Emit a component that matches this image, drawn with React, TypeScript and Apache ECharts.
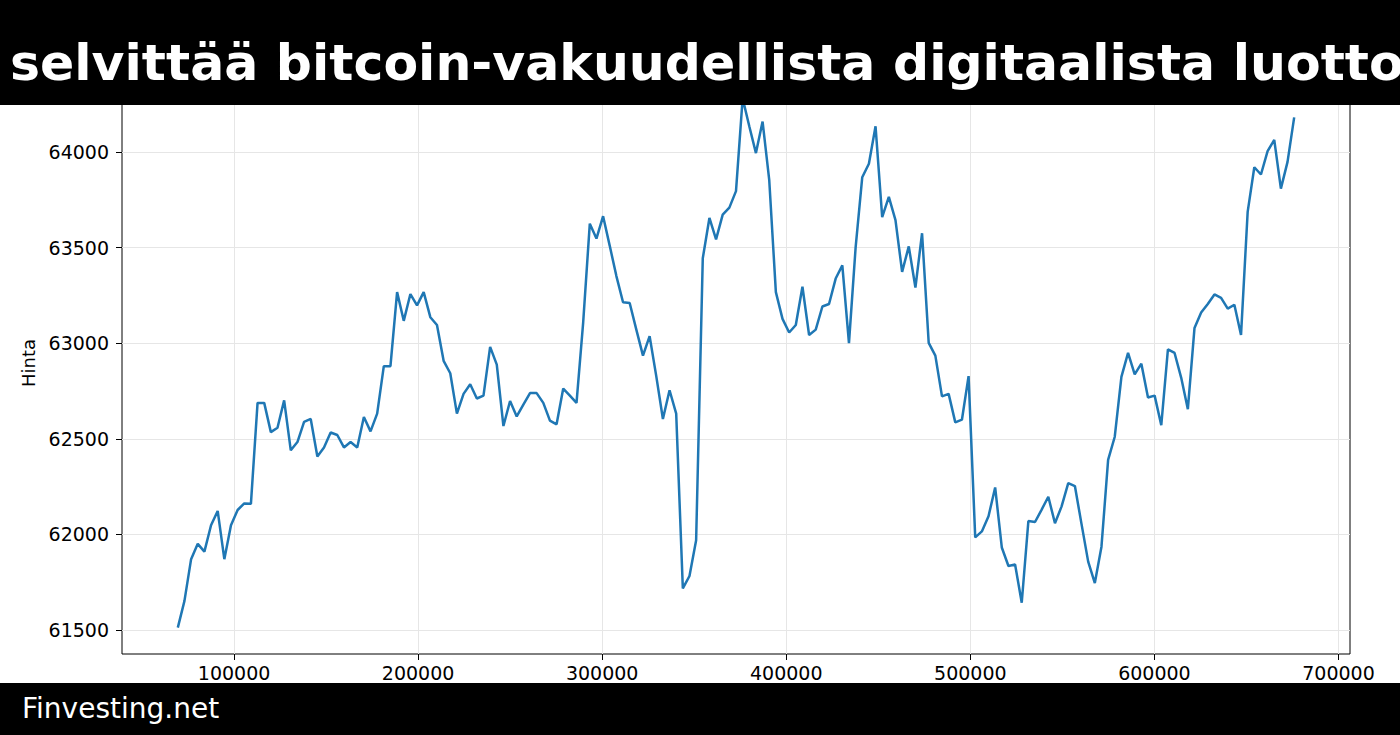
import React, { useEffect, useRef } from "react";
import * as echarts from "echarts";

const titleText = "selvittää bitcoin-vakuudellista digitaalista luotto";
const footerText = "Finvesting.net";
const yAxisName = "Hinta";

const xTicks = [100000, 200000, 300000, 400000, 500000, 600000, 700000];
const yTicks = [61500, 62000, 62500, 63000, 63500, 64000];

const xValues = [
  69450, 73060, 76670, 80280, 83890, 87500, 91110, 94720, 98330, 101940,
  105550, 109160, 112770, 116380, 119990, 123600, 127210, 130820, 134430, 138040,
  141650, 145260, 148870, 152480, 156090, 159700, 163310, 166920, 170530, 174140,
  177750, 181360, 184970, 188580, 192190, 195800, 199410, 203020, 206630, 210240,
  213850, 217460, 221070, 224680, 228290, 231900, 235510, 239120, 242730, 246340,
  249950, 253560, 257170, 260780, 264390, 268000, 271610, 275220, 278830, 282440,
  286050, 289660, 293270, 296880, 300490, 304100, 307710, 311320, 314930, 318540,
  322150, 325760, 329370, 332980, 336590, 340200, 343810, 347420, 351030, 354640,
  358250, 361860, 365470, 369080, 372690, 376300, 379910, 383520, 387130, 390740,
  394350, 397960, 401570, 405180, 408790, 412400, 416010, 419620, 423230, 426840,
  430450, 434060, 437670, 441280, 444890, 448500, 452110, 455720, 459330, 462940,
  466550, 470160, 473770, 477380, 480990, 484600, 488210, 491820, 495430, 499040,
  502650, 506260, 509870, 513480, 517090, 520700, 524310, 527920, 531530, 535140,
  538750, 542360, 545970, 549580, 553190, 556800, 560410, 564020, 567630, 571240,
  574850, 578460, 582070, 585680, 589290, 592900, 596510, 600120, 603730, 607340,
  610950, 614560, 618170, 621780, 625390, 629000, 632610, 636220, 639830, 643440,
  647050, 650660, 654270, 657880, 661490, 665100, 668710, 672320, 675930,
];

const prices = [
  61513, 61653, 61871, 61951, 61910, 62048, 62123, 61871, 62048, 62128,
  62162, 62160, 62688, 62688, 62535, 62558, 62701, 62440, 62483, 62589,
  62604, 62408, 62455, 62533, 62520, 62455, 62483, 62455, 62614, 62539,
  62632, 62880, 62880, 63267, 63117, 63257, 63198, 63267, 63136, 63095,
  62908, 62843, 62632, 62735, 62785, 62711, 62726, 62981, 62888, 62567,
  62698, 62617, 62679, 62739, 62739, 62688, 62595, 62576, 62763, 62726,
  62688, 63108, 63625, 63547, 63664, 63509, 63351, 63214, 63210, 63071,
  62935, 63037, 62828, 62604, 62754, 62632, 61718, 61783, 61970, 63444,
  63655, 63543, 63672, 63709, 63795, 64280, 64134, 63994, 64159, 63854,
  63267, 63127, 63056, 63095, 63295, 63043, 63071, 63192, 63205, 63338,
  63407, 63000, 63500, 63868, 63938, 64134, 63659, 63765, 63644, 63373,
  63506, 63291, 63575, 63002, 62935, 62722, 62735, 62586, 62600, 62828,
  61985, 62016, 62095, 62246, 61932, 61835, 61843, 61643, 62070, 62065,
  62130, 62197, 62059, 62147, 62268, 62253, 62054, 61858, 61746, 61936,
  62390, 62511, 62824, 62949, 62837, 62893, 62716, 62726, 62571, 62968,
  62949, 62819, 62655, 63080, 63160, 63205, 63255, 63237, 63181, 63201,
  63043, 63687, 63920, 63882, 64004, 64063, 63808, 63948, 64181,
];

export default function App() {
  const ref = useRef<HTMLDivElement>(null);

  useEffect(() => {
    document.body.style.margin = "0";
    if (!ref.current) return;
    const chart = echarts.init(ref.current, null, { renderer: "svg" });
    const data = xValues.map((x, i) => [x, prices[i]]);
    const font = "DejaVu Sans";
    chart.setOption({
      animation: false,
      backgroundColor: "#ffffff",
      grid: {
        left: 122,
        right: 50,
        top: 72,
        bottom: 81,
        show: true,
        borderColor: "#000000",
        borderWidth: 1,
        backgroundColor: "transparent",
      },
      xAxis: {
        type: "value",
        min: 39126,
        max: 706254,
        axisLine: { show: false },
        axisTick: {
          show: true,
          inside: false,
          length: 6,
          customValues: xTicks,
          lineStyle: { color: "#000000", width: 1 },
        },
        axisLabel: {
          customValues: xTicks,
          color: "#000000",
          fontFamily: font,
          fontSize: 19,
          margin: 9,
          formatter: (v: number) => String(v),
        },
        splitLine: { show: true, lineStyle: { color: "#e6e6e6", width: 1 } },
      },
      yAxis: {
        type: "value",
        min: 61375,
        max: 64418,
        name: yAxisName,
        nameLocation: "middle",
        nameGap: 83,
        nameTextStyle: { color: "#000000", fontFamily: font, fontSize: 18 },
        axisLine: { show: false },
        axisTick: {
          show: true,
          inside: false,
          length: 6,
          customValues: yTicks,
          lineStyle: { color: "#000000", width: 1 },
        },
        axisLabel: {
          customValues: yTicks,
          color: "#000000",
          fontFamily: font,
          fontSize: 19,
          margin: 13,
          formatter: (v: number) => String(v),
        },
        splitLine: { show: true, lineStyle: { color: "#e6e6e6", width: 1 } },
      },
      series: [
        {
          type: "line",
          data,
          showSymbol: false,
          symbol: "none",
          lineStyle: { color: "#1f77b4", width: 2.5 },
          clip: true,
        },
      ],
      graphic: [
        {
          type: "rect",
          z: 100,
          shape: { x: 0, y: 0, width: 1400, height: 105 },
          style: { fill: "#000000" },
        },
        {
          type: "text",
          z: 101,
          x: 10,
          y: 62,
          style: {
            text: titleText,
            fill: "#ffffff",
            fontFamily: font,
            fontWeight: "bold",
            fontSize: 50.5,
            verticalAlign: "middle",
          },
        },
        {
          type: "rect",
          z: 100,
          shape: { x: 0, y: 683, width: 1400, height: 52 },
          style: { fill: "#000000" },
        },
        {
          type: "text",
          z: 101,
          x: 22,
          y: 708,
          style: {
            text: footerText,
            fill: "#ffffff",
            fontFamily: font,
            fontSize: 28,
            verticalAlign: "middle",
          },
        },
      ],
    });
    return () => chart.dispose();
  }, []);

  return (
    <div
      ref={ref}
      style={{ position: "fixed", left: 0, top: 0, width: 1400, height: 735 }}
    />
  );
}
